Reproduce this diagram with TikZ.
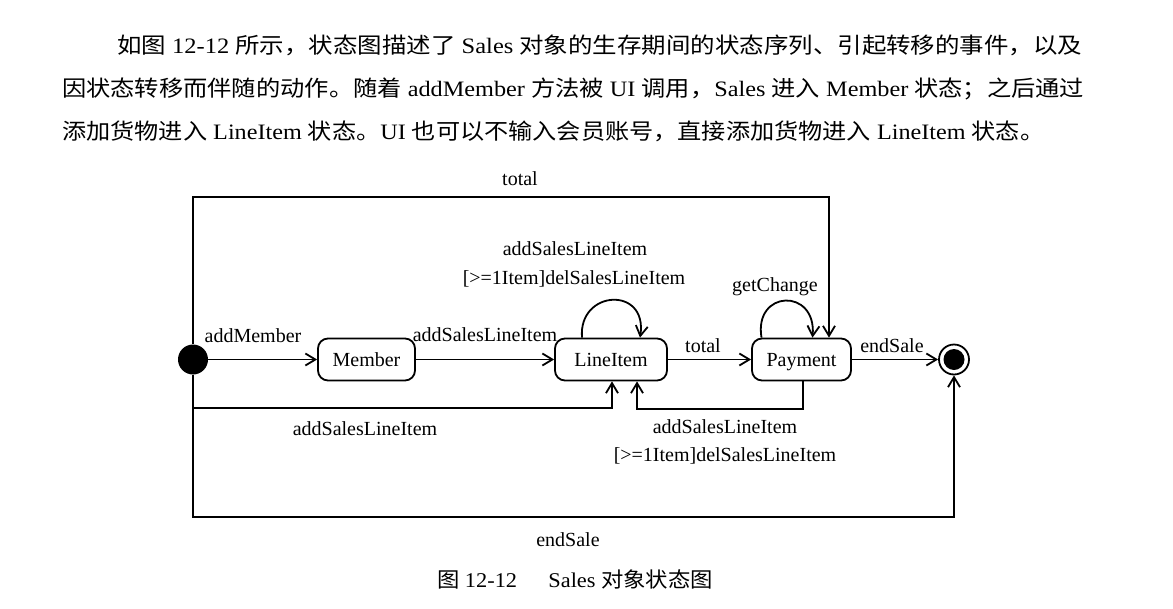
\documentclass[tikz,border=0pt]{standalone}
\usepackage{fontspec}
\usepackage{graphicx}
\setmainfont{Liberation Serif}
\newfontfamily\cjk{Noto Sans CJK SC}
\usetikzlibrary{arrows.meta}
\newcommand\zh[1]{{\cjk #1}}
\begin{document}
\begin{tikzpicture}[x=1pt,y=1pt,
  lbl/.style={inner sep=0pt, font=\fontsize{20pt}{24pt}\selectfont, anchor=base},
  state/.style={draw, line width=1.8pt, rounded corners=10pt, minimum height=42pt, inner sep=0pt, text height=13pt, text depth=0pt, font=\fontsize{20pt}{24pt}\selectfont},
  arr/.style={line width=1.8pt, -{Straight Barb[length=10pt,width=12pt,line width=1.8pt]}},
  para/.style={inner sep=0pt, anchor=base west, font=\fontsize{22pt}{26pt}\selectfont},
  capstyle/.style={inner sep=0pt, anchor=base, font=\fontsize{21pt}{25pt}\selectfont}]
\useasboundingbox (0,0) rectangle (1173,-608);

% paragraph
\node[para] (p1) at (117,-53) {\resizebox{965pt}{\height}{\zh{如图} 12-12 \zh{所示，状态图描述了} Sales \zh{对象的生存期间的状态序列、引起转移的事件，以及}}};
\node[para] (p2) at (62,-96) {\resizebox{1022pt}{\height}{\zh{因状态转移而伴随的动作。随着} addMember \zh{方法被} UI \zh{调用，}Sales \zh{进入} Member \zh{状态；之后通过}}};
\node[para] (p3) at (62,-139) {\resizebox{982pt}{\height}{\zh{添加货物进入} LineItem \zh{状态。}UI \zh{也可以不输入会员账号，直接添加货物进入} LineItem \zh{状态。}}};

% states
\node[circle, fill, minimum size=30pt, inner sep=0pt] (init) at (193,-359.5) {};
\node[state, minimum width=97pt] (mem) at (366.5,-359.5) {Member};
\node[state, minimum width=112pt] (li) at (611,-359.5) {LineItem};
\node[state, minimum width=99pt] (pay) at (801.5,-359.5) {Payment};
\node[circle, draw, line width=1.8pt, minimum size=30pt, inner sep=0pt] (fin) at (954,-359.5) {};
\node[circle, fill, minimum size=21pt, inner sep=0pt] (finin) at (fin) {};

% straight transitions
\draw[arr] (init) -- (mem);
\draw[arr] (mem) -- (li);
\draw[arr] (li) -- (pay);
\draw[arr] (pay) -- (fin);

% top: total
\coordinate (tt) at (829,-197);
\draw[arr] (init.north) |- (tt) -- (tt |- pay.north);

% bottom: addSalesLineItem from init
\coordinate (b1) at (612,-408);
\draw[arr] (init.south) |- (b1) -- (b1 |- li.south);

% bottom: from Payment back to LineItem
\coordinate (b2) at (803,-409);
\coordinate (b3) at (637,-409);
\draw[arr] (b2 |- pay.south) -- (b2) -- (b3) -- (b3 |- li.south);

% bottom: endSale
\coordinate (e1) at (954,-517);
\draw[arr] (init.south) |- (e1) -- (fin.south);

% self loops
\draw[arr] ([xshift=-29pt]li.north) .. controls +(-4,48) and +(8,52) .. ([xshift=29pt]li.north);
\draw[arr] ([xshift=-40pt]pay.north) .. controls +(-8,48) and +(4,50) .. ([xshift=11pt]pay.north);

% labels
\node[lbl] (ltt) at (520,-185) {total};
\node[lbl] (l1a) at (575,-255) {addSalesLineItem};
\node[lbl] (l1b) at (574,-284) {[>=1Item]delSalesLineItem};
\node[lbl] (lgc) at (775,-291) {getChange};
\node[lbl] (lam) at (253,-342) {addMember};
\node[lbl] (lms) at (485,-341) {addSalesLineItem};
\node[lbl] (lto) at (703,-352) {total};
\node[lbl] (les) at (892,-352) {endSale};
\node[lbl] (lb1) at (365,-435) {addSalesLineItem};
\node[lbl] (lb2) at (725,-433) {addSalesLineItem};
\node[lbl] (lb3) at (725,-461) {[>=1Item]delSalesLineItem};
\node[lbl] (lbe) at (568,-546) {endSale};

% caption
\node[capstyle] (cap) at (575,-587) {\resizebox{276pt}{\height}{\zh{图} 12-12\hspace{1.4em}Sales \zh{对象状态图}}};
\end{tikzpicture}
\end{document}
